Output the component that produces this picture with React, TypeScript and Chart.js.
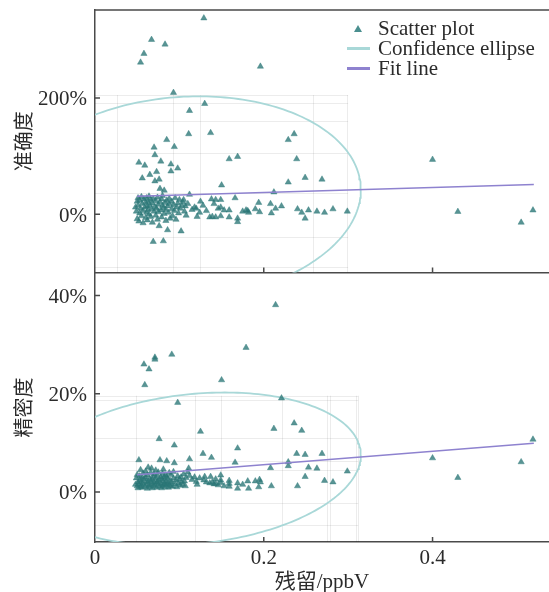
import React, { useEffect, useRef } from "react";
import { Chart, registerables } from "chart.js";

Chart.register(...registerables);

// ---------- data ----------
const X_RESIDUE = [
  0.048, 0.049, 0.05, 0.05, 0.051, 0.051, 0.052, 0.052, 0.053, 0.053,
  0.054, 0.054, 0.055, 0.055, 0.056, 0.056, 0.057, 0.057, 0.058, 0.058,
  0.059, 0.059, 0.06, 0.06, 0.061, 0.061, 0.062, 0.062, 0.063, 0.063,
  0.064, 0.064, 0.065, 0.065, 0.066, 0.066, 0.067, 0.067, 0.068, 0.068,
  0.069, 0.069, 0.07, 0.07, 0.071, 0.071, 0.071, 0.072, 0.072, 0.073,
  0.073, 0.074, 0.074, 0.075, 0.075, 0.076, 0.076, 0.077, 0.077, 0.078,
  0.078, 0.079, 0.079, 0.08, 0.08, 0.081, 0.081, 0.082, 0.082, 0.083,
  0.083, 0.084, 0.084, 0.085, 0.085, 0.086, 0.086, 0.087, 0.088, 0.088,
  0.089, 0.09, 0.09, 0.091, 0.091, 0.092, 0.093, 0.093, 0.094, 0.094,
  0.095, 0.096, 0.097, 0.098, 0.098, 0.099, 0.1, 0.101, 0.102, 0.103,
  0.104, 0.105, 0.106, 0.107, 0.108, 0.11, 0.111, 0.112, 0.112, 0.115,
  0.118, 0.12, 0.121, 0.124, 0.125, 0.128, 0.129, 0.13, 0.132, 0.136,
  0.137, 0.138, 0.139, 0.141, 0.143, 0.143, 0.146, 0.149, 0.149, 0.149,
  0.15, 0.153, 0.159, 0.159, 0.159, 0.166, 0.169, 0.169, 0.169, 0.175,
  0.179, 0.181, 0.182, 0.19, 0.194, 0.195, 0.196, 0.208, 0.209, 0.212,
  0.214, 0.221, 0.229, 0.229, 0.236, 0.239, 0.24, 0.245, 0.249, 0.249,
  0.253, 0.263, 0.269, 0.272, 0.282, 0.299, 0.4, 0.43, 0.505, 0.519,
];

const ACCURACY = [
  12, 5, 22, -8, 28, 15, 89, -12, 2, 24,
  261, 10, -3, 30, 62, 18, 6, -15, 276, 26,
  84, 12, -6, 20, 3, 28, 14, -10, 8, 22,
  0, 31, 68, 16, -4, 25, 300, 9, 19, -14,
  -47, 27, 115, 5, 102, 57, 13, -2, 23, 73,
  10, 29, -9, 17, 4, 60, -20, 44, 21, 91,
  7, 26, -5, 15, 32, -46, 11, 41, 1, 292,
  20, 8, -11, 128, 24, -27, 14, 3, 27, 18,
  -7, 86, 74, 9, 22, -3, 209, 16, 116, 6,
  28, -9, 12, 79, 19, 2, 25, 10, -29, 15,
  21, 25, 5, 14, -2, 18, 138, 178, 34, 8,
  12, 10, -4, 3, 22, 15, 337, 190, 6, -5,
  140, 26, -4, 18, 25, -5, 10, 25, 12, -3,
  50, 7, 95, 7, -5, 28, 99, -7, -13, 5,
  7, 6, 3, 9, 20, 4, 254, 18, 2, 38,
  10, 14, 128, 55, 138, 95, 9, 3, 63, -7,
  7, 5, 60, 3, 9, 5, 94, 4.5, -14, 7,
];

const PRECISION = [
  1.5, 2.8, 1.2, 3.5, 2.0, 0.8, 6.5, 1.6, 2.4, 3.2,
  1.0, 4.5, 2.1, 1.4, 2.9, 0.9, 3.8, 1.8, 26.0, 2.6,
  21.8, 1.1, 3.0, 4.2, 1.5, 2.2, 0.7, 3.4, 2.0, 5.0,
  25.0, 1.3, 2.7, 1.0, 3.9, 2.3, 1.7, 4.8, 0.8, 2.5,
  3.1, 1.4, 2.0, 3.6, 27.4, 27.0, 1.2, 2.8, 4.4, 1.9,
  0.9, 3.3, 2.1, 1.5, 4.0, 10.8, 2.4, 6.5, 1.1, 3.0,
  1.7, 2.6, 0.8, 3.7, 1.3, 2.2, 4.6, 1.6, 2.9, 3.4,
  1.0, 2.0, 1.4, 6.3, 3.1, 1.8, 2.7, 0.9, 3.9, 1.5,
  2.3, 1.2, 3.5, 28.0, 2.0, 1.1, 2.8, 4.1, 9.5, 5.9,
  1.6, 2.4, 1.0, 18.2, 3.2, 1.8, 2.6, 1.3, 3.0, 2.1,
  1.5, 3.6, 2.2, 1.2, 2.9, 4.0, 4.8, 6.7, 3.3, 2.5,
  3.0, 2.1, 1.5, 2.8, 12.3, 7.8, 2.4, 3.1, 2.0, 1.8,
  3.1, 7.0, 2.0, 1.6, 1.7, 2.6, 1.4, 3.4, 2.4, 1.9,
  22.8, 1.2, 1.7, 1.1, 2.3, 6.0, 8.9, 1.8, 0.7, 1.5,
  29.4, 2.2, 0.7, 2.2, 1.0, 2.5, 2.0, 4.9, 1.2, 12.9,
  38.1, 19.1, 6.1, 5.3, 14.0, 7.8, 1.2, 12.5, 7.6, 3.1,
  5.0, 4.8, 7.8, 2.3, 2.0, 4.2, 6.9, 2.9, 6.1, 10.7,
];

const X_TICKS = [0, 0.2, 0.4];
const ACC_TICKS = [0, 200];
const PREC_TICKS = [0, 20, 40];

// fitted lines (end points)
const FIT_X = [0.05, 0.52];
const FIT_ACC = [31, 51];
const FIT_PREC = [3.5, 9.9];

// confidence ellipses: centre, x half-axis, y half-axis, y tilt term
const ELLIPSE_ACC = { cx: 0.105, a: 0.21, cy: 27, b: 175, c: 15 };
const ELLIPSE_PREC = { cx: 0.118, a: 0.197, cy: 4.7, b: 15.3, c: 2.8 };

// faint reference grid lines inside each panel
const GRID_X_ACC = [0.026, 0.092, 0.124, 0.258, 0.299];
const GRID_Y_ACC = [205, 192, 160, 106, 37, -39, -90];
const GRID_X_PREC = [0.0485, 0.119, 0.149, 0.222, 0.275, 0.278, 0.309, 0.312];
const GRID_Y_PREC = [19.5, 18.7, 10.9, 6.3, 4.4, -2.2, -6.8];

const LABEL_Y_TOP = "准确度";
const LABEL_Y_BOTTOM = "精密度";
const LABEL_X = "残留/ppbV";
const LEGEND = ["Scatter plot", "Confidence ellipse", "Fit line"];

// ---------- styling ----------
const X_MAX = 0.538;
const FONT = "'Liberation Serif', 'Noto Sans CJK SC', serif";
const FONT_SIZE = 21;
const TEXT = "#2b2b2b";
const AXIS = "#4a4a4a";
const POINT = "rgba(42,118,118,0.78)";
const POINT_LEG = "#4a8f8f";
const ELLIPSE_COLOR = "#a9d8d8";
const FIT_COLOR = "#8e82cf";

function ellipsePoints(p: { cx: number; a: number; cy: number; b: number; c: number }) {
  const pts: { x: number; y: number }[] = [];
  const n = 240;
  for (let i = 0; i <= n; i++) {
    const t = (i / n) * Math.PI * 2;
    pts.push({ x: p.cx + p.a * Math.cos(t), y: p.cy + p.b * Math.sin(t) + p.c * Math.cos(t) });
  }
  return pts;
}

function noPadding(s: any) {
  s.paddingTop = 0;
  s.paddingBottom = 0;
  s.paddingLeft = 0;
  s.paddingRight = 0;
}

const framePlugin = {
  id: "frame",
  beforeDatasetsDraw(chart: any, _a: any, opts: any) {
    const { ctx, chartArea: area, scales } = chart;
    const x = scales.x, y = scales.y;
    const g = opts.grid;
    const bx0 = Math.max(area.left, x.getPixelForValue(g.box[0]));
    const bx1 = Math.min(area.right, x.getPixelForValue(g.box[1]));
    const by0 = Math.min(area.bottom, y.getPixelForValue(g.box[2]));
    const by1 = Math.max(area.top, y.getPixelForValue(g.box[3]));
    ctx.save();
    ctx.strokeStyle = "rgba(0,0,0,0.075)";
    ctx.lineWidth = 1;
    ctx.beginPath();
    g.xs.forEach((v: number) => {
      const px = Math.round(x.getPixelForValue(v)) + 0.5;
      ctx.moveTo(px, by1);
      ctx.lineTo(px, by0);
    });
    g.ys.forEach((v: number) => {
      const py = Math.round(y.getPixelForValue(v)) + 0.5;
      ctx.moveTo(bx0, py);
      ctx.lineTo(bx1, py);
    });
    ctx.stroke();
    ctx.restore();
  },
  afterDraw(chart: any, _a: any, opts: any) {
    const { ctx, chartArea: area, scales } = chart;
    const x = scales.x, y = scales.y;
    ctx.save();
    ctx.strokeStyle = AXIS;
    ctx.lineWidth = 1.5;
    ctx.beginPath();
    if (opts.topBorder) {
      ctx.moveTo(area.left - 0.75, area.top);
      ctx.lineTo(area.right, area.top);
    }
    opts.yTicks.forEach((v: number) => {
      const py = y.getPixelForValue(v);
      ctx.moveTo(area.left, py);
      ctx.lineTo(area.left + 5, py);
    });
    opts.xTicks.forEach((v: number) => {
      if (v === 0) return;
      const px = x.getPixelForValue(v);
      ctx.moveTo(px, area.bottom);
      ctx.lineTo(px, area.bottom - 5);
    });
    ctx.stroke();
    ctx.restore();
  },
};

function buildConfig(o: {
  yValues: number[];
  yTicks: number[];
  yMin: number;
  yMax: number;
  yTitle: string;
  fitY: number[];
  ellipse: any;
  gridX: number[];
  gridY: number[];
  gridBox: number[];
  showX: boolean;
  padTop: number;
}) {
  const font = { family: FONT, size: FONT_SIZE };
  return {
    type: "scatter" as const,
    data: {
      datasets: [
        {
          label: LEGEND[0],
          data: X_RESIDUE.map((x, i) => ({ x, y: o.yValues[i] })),
          pointStyle: "triangle",
          pointRadius: 3.6,
          backgroundColor: POINT,
          borderColor: POINT,
          borderWidth: 0.5,
          order: 2,
        },
        {
          label: LEGEND[1],
          data: ellipsePoints(o.ellipse),
          showLine: true,
          pointRadius: 0,
          borderColor: ELLIPSE_COLOR,
          borderWidth: 1.8,
          fill: false,
          order: 3,
        },
        {
          label: LEGEND[2],
          data: FIT_X.map((x, i) => ({ x, y: o.fitY[i] })),
          showLine: true,
          pointRadius: 0,
          borderColor: FIT_COLOR,
          borderWidth: 1.5,
          fill: false,
          order: 1,
        },
      ],
    },
    options: {
      responsive: false,
      animation: false as const,
      events: [],
      layout: { autoPadding: false, padding: { top: o.padTop, right: 0, bottom: 0, left: 0 } },
      plugins: {
        legend: { display: false },
        tooltip: { enabled: false },
        frame: {
          topBorder: !o.showX,
          xTicks: X_TICKS,
          yTicks: o.yTicks,
          grid: { xs: o.gridX, ys: o.gridY, box: o.gridBox },
        },
      },
      scales: {
        x: {
          type: "linear" as const,
          min: 0,
          max: X_MAX,
          afterBuildTicks: (s: any) => {
            s.ticks = X_TICKS.map((v) => ({ value: v }));
          },
          afterFit: (s: any) => {
            s.height = o.showX ? 50 : 1.5;
            noPadding(s);
          },
          grid: { display: false, drawTicks: false },
          border: { display: true, color: AXIS, width: 1.5 },
          ticks: {
            display: o.showX,
            autoSkip: false,
            maxRotation: 0,
            padding: 4,
            color: TEXT,
            font,
            callback: (v: any) => String(v),
          },
          title: {
            display: o.showX,
            text: LABEL_X,
            color: TEXT,
            font,
            padding: { top: 0, bottom: -3 },
          },
        },
        y: {
          type: "linear" as const,
          min: o.yMin,
          max: o.yMax,
          afterBuildTicks: (s: any) => {
            s.ticks = o.yTicks.map((v) => ({ value: v }));
          },
          afterFit: (s: any) => {
            s.width = 95;
            noPadding(s);
          },
          grid: { display: false, drawTicks: false },
          border: { display: true, color: AXIS, width: 1.5 },
          ticks: {
            autoSkip: false,
            padding: 8,
            labelOffset: 2,
            color: TEXT,
            font,
            callback: (v: any) => v + "%",
          },
          title: {
            display: true,
            text: o.yTitle,
            color: TEXT,
            font: { family: FONT, size: 20 },
            padding: { top: 14, bottom: 0 },
          },
        },
      },
    },
    plugins: [framePlugin],
  };
}

export default function App() {
  const topRef = useRef<HTMLCanvasElement>(null);
  const botRef = useRef<HTMLCanvasElement>(null);

  useEffect(() => {
    const c1 = new Chart(
      topRef.current as HTMLCanvasElement,
      buildConfig({
        yValues: ACCURACY,
        yTicks: ACC_TICKS,
        yMin: -100,
        yMax: 351,
        yTitle: LABEL_Y_TOP,
        fitY: FIT_ACC,
        ellipse: ELLIPSE_ACC,
        gridX: GRID_X_ACC,
        gridY: GRID_Y_ACC,
        gridBox: [0, 0.3, -100, 205],
        showX: false,
        padTop: 10,
      }) as any
    );
    const c2 = new Chart(
      botRef.current as HTMLCanvasElement,
      buildConfig({
        yValues: PRECISION,
        yTicks: PREC_TICKS,
        yMin: -10.2,
        yMax: 44.6,
        yTitle: LABEL_Y_BOTTOM,
        fitY: FIT_PREC,
        ellipse: ELLIPSE_PREC,
        gridX: GRID_X_PREC,
        gridY: GRID_Y_PREC,
        gridBox: [0, 0.312, -10.2, 19.6],
        showX: true,
        padTop: 3,
      }) as any
    );
    return () => {
      c1.destroy();
      c2.destroy();
    };
  }, []);

  const row: React.CSSProperties = { display: "flex", alignItems: "center", height: 20 };
  const sym: React.CSSProperties = { width: 30, display: "flex", justifyContent: "center", alignItems: "center" };

  return (
    <div
      style={{
        position: "fixed",
        left: 0,
        top: 0,
        width: 549,
        height: 592,
        background: "#fff",
        overflow: "hidden",
      }}
    >
      <canvas ref={topRef} width={549} height={274} style={{ position: "absolute", left: 0, top: 0 }} />
      <canvas ref={botRef} width={549} height={322} style={{ position: "absolute", left: 0, top: 270 }} />
      <div
        style={{
          position: "absolute",
          left: 343,
          top: 18,
          padding: "0 6px 0 0",
          background: "rgba(255,255,255,0.92)",
          fontFamily: FONT,
          fontSize: FONT_SIZE,
          lineHeight: "20px",
          color: TEXT,
          whiteSpace: "nowrap",
        }}
      >
        <div style={row}>
          <span style={sym}>
            <span
              style={{
                width: 0,
                height: 0,
                borderLeft: "4px solid transparent",
                borderRight: "4px solid transparent",
                borderBottom: "7px solid " + POINT_LEG,
              }}
            />
          </span>
          <span style={{ marginLeft: 5 }}>{LEGEND[0]}</span>
        </div>
        <div style={row}>
          <span style={sym}>
            <span style={{ width: 23, height: 3, background: ELLIPSE_COLOR }} />
          </span>
          <span style={{ marginLeft: 5 }}>{LEGEND[1]}</span>
        </div>
        <div style={row}>
          <span style={sym}>
            <span style={{ width: 23, height: 3, background: FIT_COLOR }} />
          </span>
          <span style={{ marginLeft: 5 }}>{LEGEND[2]}</span>
        </div>
      </div>
    </div>
  );
}
